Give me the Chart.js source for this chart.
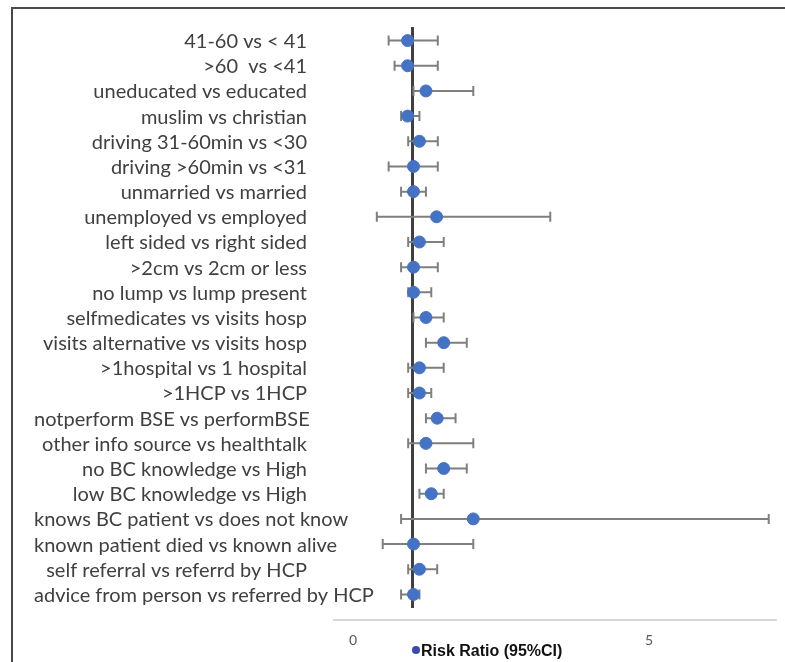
<!DOCTYPE html>
<html>
<head>
<meta charset="utf-8">
<script src="https://cdn.jsdelivr.net/npm/chart.js@4.4.1/dist/chart.umd.min.js"></script>
<style>
  html, body { margin: 0; padding: 0; background: #fff; overflow: hidden; }
  #wrap { position: relative; width: 785px; height: 662px; }
  #frame { position: absolute; left: 11px; top: 7px; width: 900px; height: 900px; border: 2px solid #4a4a4a; }
  canvas { position: absolute; left: 0; top: 0; }
</style>
</head>
<body>
<div id="wrap">
  <div id="frame"></div>
  <canvas id="chart" width="785" height="662"></canvas>
</div>
<script>
const categories = [
  "41-60 vs < 41",
  ">60  vs <41",
  "uneducated vs educated",
  "muslim vs christian",
  "driving 31-60min vs <30",
  "driving >60min vs <31",
  "unmarried vs married",
  "unemployed vs employed",
  "left sided vs right sided",
  ">2cm vs 2cm or less",
  "no lump vs lump present",
  "selfmedicates vs visits hosp",
  "visits alternative vs visits hosp",
  ">1hospital vs 1 hospital",
  ">1HCP vs 1HCP",
  "notperform BSE vs performBSE",
  "other info source vs healthtalk",
  "no BC knowledge vs High",
  "low BC knowledge vs High",
  "knows BC patient vs does not know",
  "known patient died vs known alive",
  "self referral vs referrd by HCP",
  "advice from person vs referred by HCP"
];
const riskRatio = [0.92, 0.92, 1.23, 0.92, 1.12, 1.02, 1.02, 1.41, 1.12, 1.02, 1.02, 1.23, 1.53, 1.12, 1.12, 1.42, 1.23, 1.53, 1.32, 2.03, 1.02, 1.12, 1.02];
const ciLow     = [0.60, 0.70, 1.02, 0.81, 0.93, 0.60, 0.81, 0.40, 0.93, 0.81, 0.93, 1.02, 1.23, 0.93, 0.93, 1.23, 0.93, 1.23, 1.12, 0.81, 0.50, 0.93, 0.81];
const ciHigh    = [1.43, 1.43, 2.03, 1.12, 1.43, 1.43, 1.23, 3.33, 1.53, 1.43, 1.32, 1.53, 1.92, 1.53, 1.32, 1.73, 2.03, 1.92, 1.53, 7.02, 2.03, 1.42, 1.12];
const xTicks = [0, 5];
const legendText = "Risk Ratio (95%CI)";

// error bars, drawn under the points
const errorBars = {
  id: "errorBars",
  beforeDatasetsDraw(chart) {
    const ctx = chart.ctx, x = chart.scales.x, y = chart.scales.y;
    ctx.save();
    ctx.strokeStyle = "#7f7f7f";
    ctx.lineWidth = 2;
    categories.forEach((c, i) => {
      const py = y.getPixelForValue(i);
      const x0 = x.getPixelForValue(ciLow[i]);
      const x1 = x.getPixelForValue(ciHigh[i]);
      ctx.beginPath();
      ctx.moveTo(x0, py); ctx.lineTo(x1, py);
      ctx.moveTo(x0, py - 5); ctx.lineTo(x0, py + 5);
      ctx.moveTo(x1, py - 5); ctx.lineTo(x1, py + 5);
      ctx.stroke();
    });
    ctx.restore();
  }
};

// category labels: right aligned, but kept inside the frame when too long
const rowLabels = {
  id: "rowLabels",
  afterDraw(chart) {
    const ctx = chart.ctx, y = chart.scales.y;
    ctx.save();
    ctx.font = "20px Lato";
    ctx.fillStyle = "#404040";
    ctx.textBaseline = "middle";
    ctx.textAlign = "left";
    categories.forEach((c, i) => {
      const w = ctx.measureText(c).width;
      const left = Math.max(34, 307 - w);
      ctx.fillText(c, left, y.getPixelForValue(i) + 1);
    });
    // x axis line
    const xs = chart.scales.x;
    ctx.strokeStyle = "#d9d9d9";
    ctx.lineWidth = 2;
    ctx.beginPath();
    ctx.moveTo(xs.left, 620); ctx.lineTo(xs.right, 620);
    ctx.stroke();
    // legend
    ctx.fillStyle = "#3a49b0";
    ctx.beginPath();
    ctx.arc(416, 650, 4, 0, Math.PI * 2);
    ctx.fill();
    ctx.fillStyle = "#111";
    ctx.font = "bold 16px 'Liberation Sans'";
    ctx.fillText(legendText, 421, 652);
    ctx.restore();
  }
};

new Chart(document.getElementById("chart"), {
  type: "scatter",
  data: {
    labels: categories,
    datasets: [{
      label: legendText,
      data: riskRatio.map((v, i) => ({ x: v, y: i })),
      backgroundColor: "#4472c4",
      borderColor: "#4472c4",
      pointRadius: 6,
      pointHoverRadius: 6
    }]
  },
  options: {
    responsive: false,
    animation: false,
    layout: { padding: { left: 333, right: 8, top: 28, bottom: 12 } },
    plugins: { legend: { display: false }, tooltip: { enabled: false } },
    scales: {
      x: {
        type: "linear",
        min: -0.34,
        max: 7.16,
        afterBuildTicks(scale) { scale.ticks = xTicks.map(v => ({ value: v })); },
        afterFit(scale) { scale.height = 43; },
        grid: { display: false, drawTicks: false },
        border: { display: false },
        ticks: { color: "#595959", font: { size: 14, family: "Lato" }, padding: 25 }
      },
      y: {
        type: "linear",
        reverse: true,
        min: -0.5,
        max: categories.length - 0.5,
        position: { x: 1 },
        afterFit(scale) { scale.width = 0; },
        grid: { display: false, drawTicks: false },
        ticks: { display: false },
        border: { display: true, color: "#404040", width: 3 }
      }
    }
  },
  plugins: [errorBars, rowLabels]
});
</script>
</body>
</html>
